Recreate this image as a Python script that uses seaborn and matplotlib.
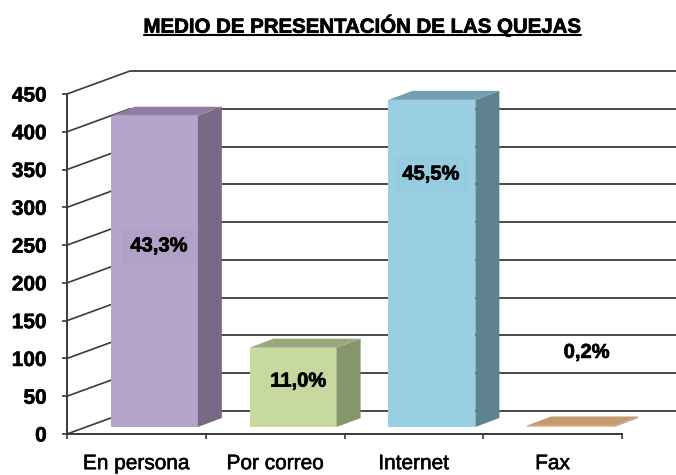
import matplotlib
matplotlib.use("Agg")
import matplotlib.pyplot as plt
import matplotlib.patheffects as pe
from matplotlib.lines import Line2D
from matplotlib.patches import Polygon
import seaborn as sns

categories = ["En persona", "Por correo", "Internet", "Fax"]
quejas = [412, 105, 433, 2]
porcentajes = ["43,3%", "11,0%", "45,5%", "0,2%"]
y_ticks = [0, 50, 100, 150, 200, 250, 300, 350, 400, 450]
titulo = "MEDIO DE PRESENTACIÓN DE LAS QUEJAS"

front_colors = ["#B5A5CB", "#C8DAA0", "#98CFE2", "#E9BE96"]
side_colors = ["#786A85", "#87956B", "#5F8290", "#C49A70"]
top_colors = ["#8E7FA0", "#9BA77D", "#73A0B0", "#C49A70"]
tint_colors = ["#B1A1C7", "#C6D89D", "#95CCDF", "#FFFFFF"]

sns.set_theme(style="white")
plt.rcParams["font.family"] = ["Liberation Sans", "DejaVu Sans"]

W, H = 676, 475
fig = plt.figure(figsize=(W / 100, H / 100), dpi=100)
ax = fig.add_axes([67 / W, (H - 434) / H, 555 / W, 340 / H])

sns.barplot(x=categories, y=quejas, hue=categories, palette=front_colors,
            width=0.627, saturation=1, legend=False, ax=ax, zorder=3,
            edgecolor="none", linewidth=0)

ax.set_xlim(-0.5, 3.5)
ax.set_ylim(0, 450)

# un pixel en unidades de datos
px = 4 / 555
py = 450 / 340

# pared del fondo y lineas oblicuas
wall_x = 63 * px
wall_y = 23 * py
grid_color = "#3A3A3A"
for v in y_ticks:
    ax.plot([-0.5, -0.5 + wall_x], [v, v + wall_y], color=grid_color, lw=1.2,
            clip_on=False, zorder=1, solid_capstyle="butt")
    ax.plot([-0.5 + wall_x, 3.5 + wall_x], [v + wall_y, v + wall_y], color=grid_color,
            lw=1.3, clip_on=False, zorder=1, solid_capstyle="butt")

# caras laterales y superiores de las barras
shift_x = 18 * px
shift_y = 7 * py
depth_x = 24 * px
depth_y = 9 * py
for i, bar in enumerate(ax.patches[:len(categories)]):
    bar.set_x(bar.get_x() + shift_x)
    bar.set_y(shift_y)
    bar.set_clip_on(False)
    x0 = bar.get_x()
    x1 = x0 + bar.get_width()
    y0 = bar.get_y()
    y1 = y0 + bar.get_height()
    side = Polygon([(x1, y0), (x1 + depth_x, y0 + depth_y), (x1 + depth_x, y1 + depth_y), (x1, y1)],
                   closed=True, facecolor=side_colors[i], edgecolor="none", clip_on=False, zorder=3)
    top = Polygon([(x0, y1), (x0 + depth_x, y1 + depth_y), (x1 + depth_x, y1 + depth_y), (x1, y1)],
                  closed=True, facecolor=top_colors[i], edgecolor="none", clip_on=False, zorder=3)
    ax.add_patch(side)
    ax.add_patch(top)

# etiquetas de porcentaje: desplazamiento en px desde la categoria y altura en el eje
label_dx = [22.6, 23, 17, 34]
label_y = [249, 70, 344, 108]
for i, txt in enumerate(porcentajes):
    box = None
    if i != 3:
        box = dict(facecolor=tint_colors[i], edgecolor="none", pad=6)
    ax.text(i + label_dx[i] * px, label_y[i], txt, ha="center", va="center", fontsize=14.5,
            fontweight="bold", color="black", zorder=5, bbox=box,
            path_effects=[pe.withStroke(linewidth=0.5, foreground="black")])

for side_name in ["top", "right"]:
    ax.spines[side_name].set_visible(False)
for side_name in ["left", "bottom"]:
    ax.spines[side_name].set_color(grid_color)
    ax.spines[side_name].set_linewidth(1.4)
    ax.spines[side_name].set_zorder(4)

ax.set_yticks(y_ticks)
ax.set_yticklabels([str(v) for v in y_ticks], fontsize=15, fontweight="bold", color="black")
ax.set_xticks([-0.5, 0.5, 1.5, 2.5, 3.5])
ax.set_xticklabels([])
ax.set_xticks([0, 1, 2, 3], labels=categories, minor=True, fontsize=15, color="black")
ax.tick_params(axis="y", which="major", left=True, length=3.6, width=1.2, color=grid_color, pad=11)
ax.tick_params(axis="x", which="major", bottom=True, length=3.6, width=1.2, color=grid_color)
ax.tick_params(axis="x", which="minor", bottom=False, length=0, pad=14.5)
ax.set_xlabel("")
ax.set_ylabel("")
for lab in ax.get_xticklabels(minor=True):
    lab.set_path_effects([pe.withStroke(linewidth=0.4, foreground="black")])
for lab in ax.get_yticklabels():
    lab.set_path_effects([pe.withStroke(linewidth=0.4, foreground="black")])

t = fig.text(362 / W, 1 - 25.5 / H, titulo, ha="center", va="center", fontsize=14.7,
             fontweight="bold", color="black",
             path_effects=[pe.withStroke(linewidth=0.5, foreground="black")])
fig.canvas.draw()
ext = t.get_window_extent()
fig.add_artist(Line2D([ext.x0 / W, ext.x1 / W], [1 - 34.5 / H, 1 - 34.5 / H], color="black", lw=1.5))

fig.savefig("out.png", dpi=100)
